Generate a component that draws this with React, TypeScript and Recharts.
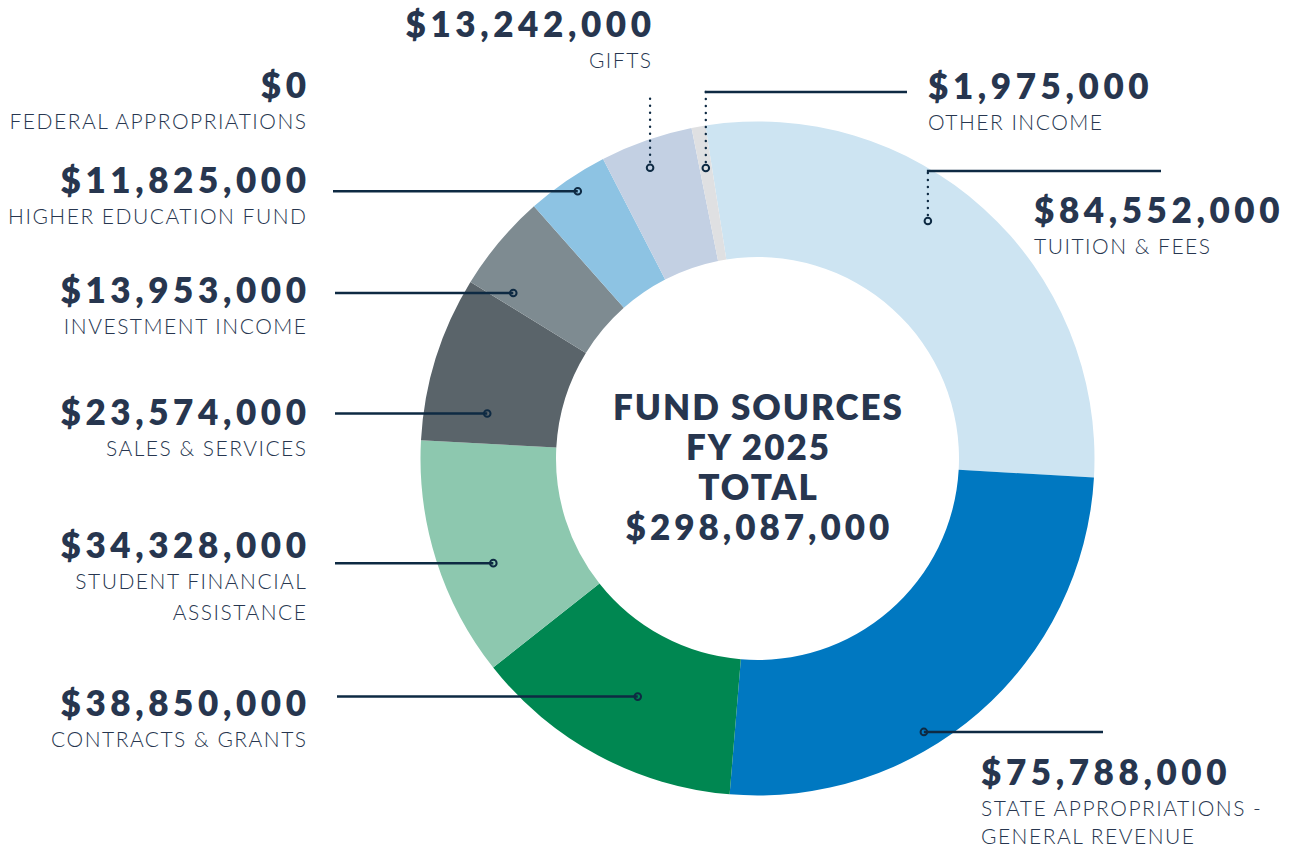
import { PieChart, Pie, Cell } from "recharts";

const categories = [
  "TUITION & FEES",
  "STATE APPROPRIATIONS -\nGENERAL REVENUE",
  "CONTRACTS & GRANTS",
  "STUDENT FINANCIAL\nASSISTANCE",
  "SALES & SERVICES",
  "INVESTMENT INCOME",
  "HIGHER EDUCATION FUND",
  "FEDERAL APPROPRIATIONS",
  "GIFTS",
  "OTHER INCOME",
];
const amounts = [84552000, 75788000, 38850000, 34328000, 23574000, 13953000, 11825000, 0, 13242000, 1975000];
const sliceColors = [
  "#cde4f2",
  "#0078c1",
  "#008751",
  "#8dc8af",
  "#5a646a",
  "#7e8b91",
  "#8dc3e3",
  "#b0b0b0",
  "#c3d0e3",
  "#dfe0e2",
];
const centerLines = ["FUND SOURCES", "FY 2025", "TOTAL", "$298,087,000"];

const INK = "#27364f";
const LEADER = "#0e2a43";
const FONT = "Lato, 'Open Sans', sans-serif";
const RAD = Math.PI / 180;

// where each label sits and how its leader is drawn
const labelLayout: any[] = [
  { anchor: "start", x: 1034, y: 223, shift: 6.5, depth: 0.67, leader: "upRight", elbowY: 171, endX: 1161 },
  { anchor: "start", x: 981, y: 785, shift: -9.7, depth: 0.875, leader: "side", endX: 1103, gap: 28 },
  { anchor: "end", x: 306, y: 716, shift: 1.5, depth: 0.48, leader: "side", endX: 337 },
  { anchor: "end", x: 306, y: 558, shift: 4, depth: 0.61, leader: "side", endX: 335 },
  { anchor: "end", x: 306, y: 425, shift: 7.9, depth: 0.535, leader: "side", endX: 335 },
  { anchor: "end", x: 306, y: 303, shift: 5.9, depth: 0.69, leader: "side", endX: 335 },
  { anchor: "end", x: 306, y: 193, shift: -0.5, depth: 0.89, leader: "side", endX: 333 },
  { anchor: "end", x: 306, y: 98, leader: "none" },
  { anchor: "end", x: 651, y: 37, shift: 1, depth: 0.8, leader: "up", elbowY: 93 },
  { anchor: "start", x: 928, y: 99, shift: 0, depth: 0.69, leader: "upRight", elbowY: 92, endX: 907 },
];

const data = categories.map((name, i) => ({ name, value: amounts[i] }));

const money = (v: number) => "$" + v.toLocaleString("en-US");

function renderLabel(props: any) {
  const { cx, cy, midAngle, innerRadius, outerRadius, index } = props;
  const lay = labelLayout[index];
  const lines = categories[index].split("\n");
  const gap = lay.gap ?? 31;
  const parts: any[] = [];

  if (lay.leader !== "none") {
    const ang = (midAngle + lay.shift) * RAD;
    const r = innerRadius + lay.depth * (outerRadius - innerRadius);
    const dx = cx + r * Math.cos(-ang);
    const dy = cy + r * Math.sin(-ang);
    if (lay.leader === "side") {
      parts.push(<line key="l" x1={dx} y1={dy} x2={lay.endX} y2={dy} stroke={LEADER} strokeWidth={2.5} />);
    } else {
      parts.push(
        <line key="d" x1={dx} y1={dy - 6} x2={dx} y2={lay.elbowY} stroke={LEADER} strokeWidth={2.4}
          strokeDasharray="0 7" strokeLinecap="round" />
      );
      if (lay.leader === "upRight") {
        parts.push(
          <line key="h" x1={dx - 1} y1={lay.elbowY} x2={lay.endX} y2={lay.elbowY} stroke={LEADER} strokeWidth={2.5} />
        );
      }
    }
    parts.push(<circle key="c" cx={dx} cy={dy} r={3.3} fill="none" stroke={LEADER} strokeWidth={2} />);
  }

  const anchorShift = lay.anchor === "end" ? 4.6 : 0;
  parts.push(
    <text key="v" x={lay.x + anchorShift} y={lay.y} textAnchor={lay.anchor} fill={INK} fontFamily={FONT}
      fontWeight={800} fontSize={35} letterSpacing={4.6}>
      {money(amounts[index])}
    </text>
  );
  lines.forEach((t, k) => {
    parts.push(
      <text key={"t" + k} x={lay.x + (lay.anchor === "end" ? 1.5 : 0)} y={lay.y + 31 + k * gap}
        textAnchor={lay.anchor} fill={INK} fontFamily={FONT} fontWeight={300} fontSize={21} letterSpacing={1.5}>
        {t}
      </text>
    );
  });

  if (index === 0) {
    centerLines.forEach((t, k) => {
      const isNum = k === 3;
      parts.push(
        <text key={"m" + k} x={cx + (isNum ? 2 : 1)} y={cy - 39 + k * 40} textAnchor="middle" fill={INK}
          fontFamily={FONT} fontWeight={800} fontSize={35} letterSpacing={isNum ? 4 : 2}>
          {t}
        </text>
      );
    });
  }

  return <g key={"lab" + index}>{parts}</g>;
}

export default function App() {
  return (
    <div style={{ position: "absolute", left: 0, top: 0, width: 1304, height: 849, background: "#fff" }}>
      <PieChart width={1304} height={849} margin={{ top: 0, right: 0, bottom: 0, left: 0 }}>
        <Pie
          data={data}
          dataKey="value"
          nameKey="name"
          cx={757.5}
          cy={458.5}
          innerRadius={201.5}
          outerRadius={337}
          startAngle={98.9}
          endAngle={-261.1}
          stroke="none"
          label={renderLabel}
          labelLine={false}
          isAnimationActive={false}
        >
          {data.map((_, i) => (
            <Cell key={i} fill={sliceColors[i]} />
          ))}
        </Pie>
      </PieChart>
    </div>
  );
}
